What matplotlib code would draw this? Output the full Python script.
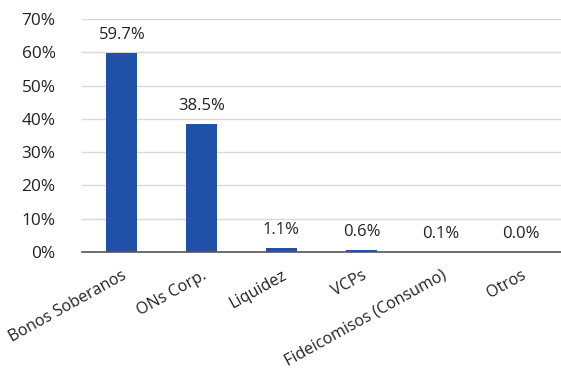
import matplotlib
matplotlib.use('Agg')
import matplotlib.pyplot as plt
from matplotlib.ticker import FuncFormatter

categories = ['Bonos Soberanos', 'ONs Corp.', 'Liquidez', 'VCPs',
              'Fideicomisos (Consumo)', 'Otros']
values = [59.7, 38.5, 1.1, 0.6, 0.1, 0.0]
yticks = [0, 10, 20, 30, 40, 50, 60, 70]

plt.rcParams['font.family'] = ['Open Sans', 'DejaVu Sans']

fig = plt.figure(figsize=(5.61, 3.71), dpi=100)
ax = fig.add_axes([0.146, 0.3208, 0.854, 0.628])

x = range(len(categories))
ax.bar(x, values, width=0.39, color='#2150A8', zorder=3)

# value labels above each bar
for i, val in enumerate(values):
    ax.text(i, val + 4.2, f"{val:.1f}%", ha='center', va='baseline',
            fontsize=12, color='#222222')

ax.set_xlim(-0.5, len(categories) - 0.5)
ax.set_ylim(0, 70)
ax.set_yticks(yticks)
ax.yaxis.set_major_formatter(FuncFormatter(lambda v, _: f"{v:.0f}%"))
ax.grid(axis='y', color='#d9d9d9', linewidth=1, zorder=0)
ax.set_axisbelow(True)

ax.set_xticks(list(x))
ax.set_xticklabels(categories, rotation=29, ha='right', rotation_mode='anchor',
                   fontsize=11.6)
ax.tick_params(axis='both', length=0, colors='#222222')
ax.tick_params(axis='x', pad=11)
ax.tick_params(axis='y', pad=19, labelsize=12.4)

for side in ['top', 'right', 'left']:
    ax.spines[side].set_visible(False)
ax.spines['bottom'].set_color('#555555')
ax.spines['bottom'].set_linewidth(1.2)
ax.spines['bottom'].set_zorder(4)

plt.savefig('out.png', dpi=100)
plt.close()
